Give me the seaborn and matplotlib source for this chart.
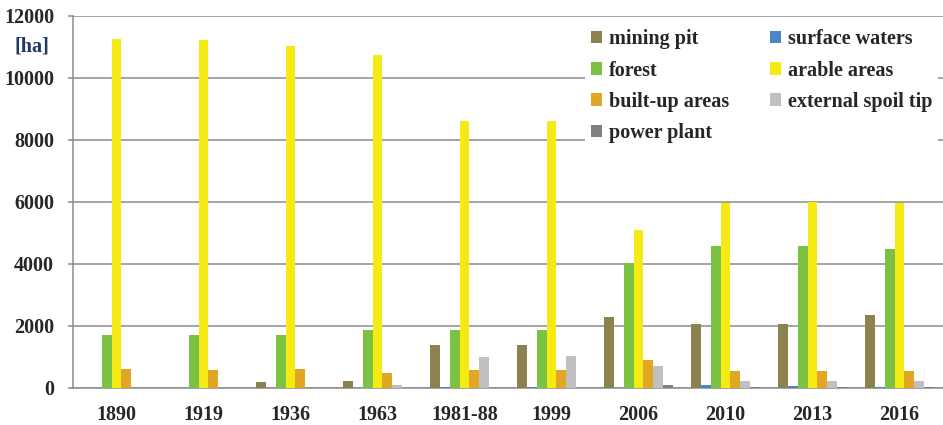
import pandas as pd
import numpy as np
import matplotlib.pyplot as plt
import seaborn as sns

years = ['1890', '1919', '1936', '1963', '1981-88', '1999', '2006', '2010', '2013', '2016']
land_types = ['mining pit', 'surface waters', 'forest', 'arable areas',
              'built-up areas', 'external spoil tip', 'power plant']

mining_pit = [0, 0, 195, 230, 1390, 1400, 2280, 2070, 2075, 2365]
surface_waters = [0, 0, 0, 0, 20, 30, 0, 100, 60, 25]
forest = [1720, 1720, 1725, 1870, 1870, 1860, 4030, 4575, 4575, 4480]
arable_areas = [11270, 11240, 11030, 10740, 8610, 8600, 5090, 5955, 6000, 5955]
built_up_areas = [613, 595, 613, 490, 575, 575, 910, 540, 540, 540]
external_spoil_tip = [0, 0, 0, 110, 1005, 1025, 715, 240, 240, 215]
power_plant = [0, 0, 0, 0, 0, 0, 97, 40, 40, 40]

colors = ['#8C8250', '#4A86C8', '#7CC242', '#F6EA14', '#E2A722', '#C0C0C0', '#7F7F7F']


def main():
    series = [mining_pit, surface_waters, forest, arable_areas,
              built_up_areas, external_spoil_tip, power_plant]
    rows = []
    for name, vals in zip(land_types, series):
        for y, v in zip(years, vals):
            rows.append({'year': y, 'type': name, 'area': v})
    df = pd.DataFrame(rows)

    sns.set_style('white')
    plt.rcParams['font.family'] = ['Liberation Serif', 'DejaVu Serif']
    plt.rcParams['font.weight'] = 'bold'

    fig = plt.figure(figsize=(9.43, 4.25), dpi=100)
    ax = fig.add_axes([0.0774, 0.0871, 0.9226, 0.8753])

    sns.barplot(data=df, x='year', y='area', hue='type', order=years,
                hue_order=land_types, palette=colors, saturation=1,
                width=0.8, gap=0, linewidth=0, ax=ax, zorder=3)

    ax.set_ylim(0, 12000)
    ax.set_xlim(-0.5, len(years) - 0.5)
    ax.set_yticks(np.arange(0, 12001, 2000))
    ax.yaxis.grid(True, color='#8C8C8C', linewidth=1.1, zorder=0)
    ax.set_axisbelow(True)
    ax.set_xlabel('')
    ax.set_ylabel('')

    for side in ['top', 'right']:
        ax.spines[side].set_visible(False)
    for side in ['left', 'bottom']:
        ax.spines[side].set_color('#8C8C8C')
        ax.spines[side].set_linewidth(1.1)

    # marcas del eje x entre categorias
    ax.set_xticks(np.arange(-0.5, len(years), 1), minor=True)
    ax.tick_params(axis='x', which='major', length=0, pad=12, labelsize=14.5)
    ax.tick_params(axis='x', which='minor', length=6, width=1.1, color='#8C8C8C', direction='out')
    ax.tick_params(axis='y', length=3.5, width=1.1, color='#8C8C8C', direction='out',
                   pad=10, labelsize=14.5, left=True)
    for lbl in ax.get_xticklabels() + ax.get_yticklabels():
        lbl.set_fontweight('bold')

    fig.text(32 / 943, 1 - 46 / 425, '[ha]', color='#1F3864', fontsize=14.5,
             fontweight='bold', ha='center', va='center')

    # leyenda en dos columnas, orden por filas
    handles, labels = ax.get_legend_handles_labels()
    order = [0, 2, 4, 6, 1, 3, 5]
    leg = ax.legend([handles[i] for i in order], [labels[i] for i in order],
                    ncol=2, loc='upper left', bbox_to_anchor=(0.577, 1.007),
                    frameon=True, facecolor='white', edgecolor='none', framealpha=1,
                    handlelength=0.55, handleheight=0.55, handletextpad=0.35,
                    columnspacing=2.0, labelspacing=0.55, borderpad=0.3,
                    prop={'size': 14.5, 'weight': 'bold'})
    leg.set_zorder(5)

    fig.savefig('out.png', dpi=100)


if __name__ == "__main__":
    main()
